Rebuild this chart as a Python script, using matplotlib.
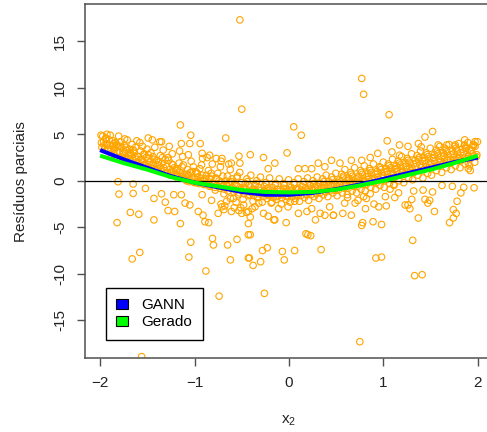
import matplotlib.pyplot as plt
from matplotlib.patches import Rectangle

plt.rcParams['font.family'] = ['Liberation Sans', 'DejaVu Sans']

# fitted partial-effect curves for x2
curve_x = [-2.0, -1.75, -1.5, -1.25, -1.0, -0.75, -0.5, -0.25, 0.0,
           0.25, 0.5, 0.75, 1.0, 1.25, 1.5, 1.75, 2.0]
gann_y = [3.3, 2.3, 1.4, 0.5, -0.2, -0.7, -1.2, -1.5, -1.5,
          -1.3, -0.9, -0.4, 0.2, 0.8, 1.4, 2.0, 2.5]
gerado_y = [2.7, 1.9, 1.2, 0.4, -0.2, -0.6, -1.0, -1.2, -1.25,
            -1.2, -0.95, -0.5, 0.0, 0.6, 1.2, 1.9, 2.7]

# partial residuals, main band
band_x = [
    -1.99, -1.981, -1.972, -1.963, -1.951, -1.944, -1.932, -1.927, -1.914, -1.903, -1.986, -1.957, -1.938, -1.918,
    -1.893, -1.884, -1.871, -1.866, -1.852, -1.843, -1.836, -1.821, -1.812, -1.804, -1.879, -1.858, -1.847, -1.826,
    -1.797, -1.781, -1.774, -1.768, -1.752, -1.744, -1.736, -1.722, -1.713, -1.702, -1.788, -1.759, -1.741, -1.727,
    -1.694, -1.686, -1.675, -1.661, -1.653, -1.642, -1.631, -1.624, -1.611, -1.603, -1.681, -1.668, -1.647, -1.617,
    -1.592, -1.584, -1.571, -1.566, -1.551, -1.548, -1.533, -1.526, -1.512, -1.503, -1.579, -1.559, -1.541, -1.519,
    -1.497, -1.483, -1.476, -1.462, -1.455, -1.441, -1.434, -1.421, -1.416, -1.402, -1.488, -1.468, -1.447, -1.427,
    -1.395, -1.384, -1.372, -1.363, -1.351, -1.346, -1.332, -1.327, -1.311, -1.304, -1.389, -1.368, -1.339, -1.318,
    -1.293, -1.287, -1.274, -1.262, -1.255, -1.241, -1.236, -1.222, -1.214, -1.201, -1.281, -1.268, -1.246, -1.228,
    -1.196, -1.182, -1.177, -1.164, -1.152, -1.143, -1.131, -1.126, -1.113, -1.104, -1.188, -1.159, -1.138, -1.118,
    -1.094, -1.087, -1.073, -1.062, -1.055, -1.043, -1.036, -1.021, -1.012, -1.003, -1.081, -1.066, -1.048, -1.027,
    -0.992, -0.984, -0.971, -0.966, -0.951, -0.944, -0.933, -0.921, -0.915, -0.902, -0.988, -0.959, -0.938, -0.926,
    -0.896, -0.883, -0.874, -0.862, -0.853, -0.846, -0.831, -0.824, -0.812, -0.804, -0.889, -0.867, -0.841, -0.817,
    -0.793, -0.787, -0.772, -0.763, -0.754, -0.741, -0.733, -0.726, -0.713, -0.701, -0.781, -0.768, -0.747, -0.719,
    -0.697, -0.684, -0.676, -0.663, -0.652, -0.645, -0.631, -0.622, -0.616, -0.603, -0.689, -0.657, -0.638, -0.611,
    -0.595, -0.583, -0.574, -0.566, -0.551, -0.543, -0.536, -0.521, -0.514, -0.502, -0.588, -0.561, -0.547, -0.527,
    -0.498, -0.482, -0.477, -0.463, -0.454, -0.446, -0.432, -0.423, -0.413, -0.404, -0.486, -0.468, -0.441, -0.418,
    -0.396, -0.386, -0.374, -0.361, -0.355, -0.342, -0.337, -0.321, -0.316, -0.302, -0.381, -0.366, -0.348, -0.327,
    -0.294, -0.288, -0.271, -0.264, -0.253, -0.246, -0.232, -0.224, -0.211, -0.205, -0.283, -0.259, -0.238, -0.217,
    -0.197, -0.183, -0.176, -0.168, -0.152, -0.141, -0.136, -0.122, -0.114, -0.103, -0.188, -0.161, -0.147, -0.127,
    -0.092, -0.087, -0.074, -0.061, -0.056, -0.043, -0.031, -0.026, -0.014, -0.004, -0.081, -0.067, -0.048, -0.019,
    0.006, 0.017, 0.024, 0.038, 0.046, 0.053, 0.067, 0.074, 0.086, 0.097, 0.012, 0.031, 0.059, 0.081,
    0.104, 0.116, 0.123, 0.137, 0.142, 0.158, 0.164, 0.176, 0.183, 0.196, 0.111, 0.131, 0.152, 0.188,
    0.203, 0.214, 0.226, 0.232, 0.247, 0.253, 0.268, 0.271, 0.284, 0.298, 0.208, 0.238, 0.261, 0.291,
    0.306, 0.312, 0.327, 0.334, 0.348, 0.356, 0.363, 0.377, 0.382, 0.394, 0.317, 0.341, 0.369, 0.388,
    0.402, 0.418, 0.424, 0.431, 0.446, 0.452, 0.467, 0.473, 0.488, 0.496, 0.411, 0.437, 0.459, 0.481,
    0.503, 0.517, 0.522, 0.536, 0.541, 0.558, 0.563, 0.571, 0.584, 0.592, 0.509, 0.548, 0.577, 0.596,
    0.604, 0.613, 0.628, 0.631, 0.645, 0.652, 0.667, 0.673, 0.686, 0.695, 0.618, 0.639, 0.661, 0.682,
    0.707, 0.711, 0.724, 0.738, 0.743, 0.756, 0.762, 0.778, 0.785, 0.797, 0.716, 0.731, 0.768, 0.791,
    0.802, 0.816, 0.821, 0.834, 0.847, 0.853, 0.866, 0.872, 0.887, 0.894, 0.808, 0.841, 0.861, 0.881,
    0.905, 0.912, 0.926, 0.933, 0.941, 0.957, 0.962, 0.974, 0.983, 0.998, 0.918, 0.937, 0.968, 0.988,
    1.004, 1.013, 1.027, 1.031, 1.046, 1.052, 1.064, 1.078, 1.083, 1.096, 1.009, 1.038, 1.058, 1.089,
    1.103, 1.118, 1.122, 1.136, 1.144, 1.157, 1.163, 1.177, 1.186, 1.193, 1.111, 1.131, 1.168, 1.198,
    1.206, 1.211, 1.224, 1.237, 1.248, 1.252, 1.266, 1.273, 1.284, 1.297, 1.215, 1.242, 1.261, 1.288,
    1.302, 1.317, 1.323, 1.336, 1.341, 1.356, 1.364, 1.371, 1.387, 1.394, 1.309, 1.346, 1.378, 1.398,
    1.407, 1.414, 1.426, 1.432, 1.447, 1.453, 1.468, 1.474, 1.482, 1.496, 1.418, 1.438, 1.461, 1.489,
    1.503, 1.516, 1.521, 1.538, 1.544, 1.557, 1.562, 1.576, 1.583, 1.597, 1.509, 1.531, 1.568, 1.591,
    1.604, 1.612, 1.627, 1.633, 1.645, 1.651, 1.668, 1.672, 1.686, 1.694, 1.617, 1.639, 1.661, 1.681,
    1.708, 1.713, 1.726, 1.731, 1.747, 1.754, 1.762, 1.778, 1.783, 1.796, 1.717, 1.739, 1.769, 1.791,
    1.802, 1.817, 1.823, 1.836, 1.842, 1.858, 1.864, 1.877, 1.881, 1.893, 1.811, 1.848, 1.869, 1.898,
    1.904, 1.916, 1.921, 1.938, 1.943, 1.952, 1.967, 1.971, 1.984, 1.996, 1.911, 1.932, 1.958, 1.989,
]
band_y = [
    4.9, 3.6, 4.8, 4.2, 3.4, 4.5, 3.9, 5.0, 3.2, 4.4, 4.1, 3.8, 4.6, 3.5,
    4.9, 3.3, 3.8, 4.3, 2.9, 3.6, 4.1, 3.1, 3.7, 4.8, 2.8, 4.0, 3.4, 3.9,
    3.1, 4.2, 2.6, 3.5, 2.9, 3.8, 2.4, 3.3, 4.4, 2.7, 3.7, 3.0, 2.5, 3.6,
    2.4, 3.4, 2.9, 3.9, 2.2, 3.1, 2.6, 3.6, 4.3, 2.0, 3.0, 2.7, 3.3, 2.3,
    2.6, 1.9, 3.2, 2.3, 3.7, 2.0, 2.9, 1.7, 2.5, 3.4, 4.1, 2.2, 2.8, 1.6,
    1.5, 2.4, 2.0, 3.0, 1.3, 2.6, 1.8, 3.6, 1.2, 2.2, 2.8, 1.6, 4.4, 2.3,
    1.2, 2.0, 1.6, 2.7, 1.0, 1.9, 3.3, 1.4, 2.3, 0.9, 1.7, 4.2, 2.5, 1.1,
    1.5, 0.8, 2.2, 1.2, 0.6, 1.8, 2.9, 1.0, 1.4, 0.5, 2.5, 3.7, 0.9, 1.7,
    0.6, 1.3, 0.3, 1.9, 0.9, 0.4, 1.5, 2.6, 0.7, 0.2, 1.1, 3.2, 0.5, 1.7,
    0.4, 0.0, 1.2, 0.6, -0.1, 0.9, 2.1, 0.3, 1.5, -0.2, 0.7, 2.8, 0.1, 1.0,
    0.2, -0.2, 0.8, 0.4, -0.3, 1.3, 0.0, 0.6, 2.4, -0.4, 1.0, -0.1, 0.3, 1.7,
    0.0, -0.4, 0.6, -0.2, 1.1, 0.3, -0.5, 0.8, 1.8, -0.3, 0.2, 2.5, -0.6, 0.5,
    -0.3, -0.7, 0.3, -0.5, 0.8, 0.0, -0.8, 1.5, -0.2, 0.5, -1.0, 0.2, -0.6, 2.1,
    -0.6, -0.9, 0.0, -0.4, 0.5, -1.1, -0.2, 1.2, -0.8, 0.2, -1.4, -0.5, 1.8, -0.1,
    -0.8, -1.2, -0.3, -1.0, 0.3, -0.6, -1.5, 0.9, -0.9, -0.2, -1.9, -0.5, 0.5, -1.3,
    -1.1, -0.7, -1.4, -0.3, -0.9, 0.2, -1.6, -0.5, -1.2, 0.6, -2.0, -0.8, -0.1, -1.5,
    -1.3, -0.9, -1.6, -0.5, -1.1, 0.0, -1.8, -0.7, -1.4, 0.4, -2.2, -1.0, -0.3, -1.7,
    -1.0, -1.4, -1.7, -0.6, -1.2, -0.2, -1.9, -0.8, -1.5, 0.3, -2.3, -1.1, -0.4, -1.6,
    -1.5, -1.1, -0.7, -1.8, -1.3, -0.3, -2.0, -0.9, -1.6, 0.2, -2.4, -1.2, -0.5, -1.7,
    -1.1, -1.5, -1.8, -0.8, -0.3, -1.3, -2.0, -0.9, -1.6, 0.1, -2.5, -1.2, -0.5, -1.7,
    -1.4, -1.0, -0.7, -1.7, -1.2, -0.2, -1.9, -0.9, -1.5, 0.2, -2.3, -1.1, -0.4, -1.6,
    -0.9, -1.3, -1.6, -0.6, -1.1, -0.1, -1.8, -0.8, -1.4, 0.3, -2.2, -1.0, -0.4, -1.5,
    -1.2, -0.8, -0.5, -1.5, -1.0, 0.0, -1.7, -0.7, -1.3, 0.4, -2.1, -0.9, -0.3, -1.4,
    -0.6, -1.0, -1.3, -0.3, -0.8, 0.2, -1.5, -0.5, -1.1, 0.6, -1.9, -0.7, -0.1, -1.2,
    -0.8, -0.4, -0.1, -1.1, -0.6, 0.4, -1.3, -0.3, -0.9, 0.8, -1.7, -0.5, 0.1, -1.0,
    -0.6, -0.2, -1.0, 0.1, -0.4, 0.7, -1.3, 0.3, -0.8, 1.2, -1.6, -0.1, 0.5, -0.5,
    -0.4, 0.0, -0.8, 0.3, -0.2, 0.9, -1.1, 0.5, -0.6, 1.4, -1.5, 0.1, 0.7, -0.3,
    -0.2, 0.2, -0.6, 0.5, 0.0, 1.1, -0.9, 0.7, -0.4, 1.6, -1.3, 0.3, 0.9, -0.1,
    0.0, 0.4, -0.4, 0.8, 0.2, 1.3, -0.7, 0.9, -0.2, 1.8, -1.1, 0.5, 1.1, 0.1,
    0.2, 0.7, -0.2, 1.0, 0.4, 1.5, -0.5, 1.2, 0.0, 2.0, -0.9, 0.8, 1.4, 0.3,
    0.5, 0.9, 0.1, 1.3, 0.7, 1.8, -0.3, 1.4, 0.3, 2.3, -0.7, 1.0, 1.6, 0.6,
    0.8, 1.2, 0.4, 1.6, 1.0, 2.1, 0.0, 1.7, 0.6, 2.6, -0.5, 1.3, 1.9, 0.9,
    1.0, 1.5, 0.7, 1.9, 1.2, 2.4, 0.3, 2.0, 0.9, 2.9, -0.2, 1.6, 2.2, 1.1,
    1.3, 1.8, 0.9, 2.2, 1.5, 2.7, 0.6, 2.3, 1.1, 3.2, 0.1, 1.9, 2.5, 1.4,
    1.6, 2.1, 1.2, 2.5, 1.8, 3.0, 0.8, 2.6, 1.4, 3.5, 0.3, 2.2, 2.8, 1.7,
    1.9, 2.4, 1.5, 2.8, 2.1, 3.3, 1.1, 2.9, 1.7, 3.7, 0.6, 2.5, 3.1, 2.0,
    2.1, 2.6, 1.8, 3.0, 2.3, 3.5, 1.4, 3.1, 2.0, 3.9, 0.9, 2.7, 3.3, 2.2,
    2.3, 2.8, 2.0, 3.2, 2.5, 3.7, 1.6, 3.3, 2.2, 4.0, 1.2, 2.9, 3.5, 2.4,
    2.5, 3.0, 2.2, 3.4, 2.7, 3.8, 1.8, 3.5, 2.4, 4.1, 1.4, 3.1, 3.6, 2.6,
    2.7, 3.2, 2.4, 3.6, 2.9, 3.9, 2.0, 3.7, 2.6, 4.2, 1.6, 3.3, 3.8, 2.8,
]

# partial residuals, scattered points
out_x = [
    -1.81, -1.80, -1.65, -1.65, -1.52, -1.43, -1.82, -1.68, -1.59, -1.43,
    -1.66, -1.58, -1.15, -1.06, -1.04, -1.24, -0.88, -0.74, -0.62, -0.65,
    -0.55, -0.81, -0.80, -0.43, -0.43, -1.56, -0.89, -0.85, -0.91, -0.96,
    -1.10, -1.05, -1.28, -1.21, -1.31, -1.35, -1.22, -1.14, -0.92, -0.82,
    -0.71, -0.61, -0.75, -0.50, -0.43, -0.41, -0.28, -0.23, -0.42, -0.38,
    -0.30, -0.26, -0.07, -0.05, 0.06, 0.34, 0.18, 0.20, 0.23, 0.75,
    0.92, 0.98, 0.77, 0.78, 0.89, 0.98, 1.31, 1.33, 1.41, 1.37,
    1.54, 1.70, 1.74, 1.77, 1.74, 1.78, 1.82, 1.85, 1.73, 1.96,
    1.52, 1.49, 1.47, 1.44, 1.30, 1.26, 1.23, 1.28, 1.12, 1.03,
    1.02, 0.90, 0.95, 1.07, 1.16, 1.32, 1.42, 0.81, 0.82, 0.86,
    0.79, 0.66, 0.57, 0.47, 0.38, 0.59, 0.70, 0.73, 0.28, -0.03,
    -0.15, -0.11, -0.01, 0.06, 0.10, 0.19, 0.24, 0.33, 0.43, 0.47,
    -0.43, -0.41, -0.39, -0.27, -0.22, -0.32, -0.36, -0.18, -0.16, -0.72,
    -0.66, -0.58, -0.48, -0.69, -0.53, -0.62, -0.45, -0.56, -0.68, -0.51,
    -0.52, 1.06, -1.15, 0.05, 0.13, -0.67, -1.04, 1.52, 1.04, -0.94,
    -1.14, -1.05, -0.41, -0.27, -0.02, -0.53, -0.71, -0.61, -0.52, -0.92,
    -0.84, -0.77, 1.44, 1.37, 1.40, 1.17, 1.26, 0.94, 1.09, 1.17,
    0.66, 0.77, 0.86, 0.54, 0.45, 0.31, 0.38, -0.15, -0.22, 0.10,
    0.17, 0.24, 1.86, 1.97, 1.86, 1.76, 1.67, 1.58, 1.90, 1.90,
    1.92, -1.35, -1.74, -1.49, 0.77, 0.79, -0.50, 0.62, 1.62, 1.11,
]
out_y = [
    -0.1, -1.43, -0.35, -1.36, -0.82, -1.9, -4.5, -3.4, -3.6, -4.2,
    -8.4, -7.7, -4.6, -8.2, -6.6, -12.3, -9.7, -12.4, -8.5, -6.9,
    -6.3, -6.2, -6.9, -8.3, -5.8, -18.9, -4.4, -4.5, -3.7, -3.3,
    -2.4, -2.6, -3.2, -3.3, -2.3, -1.4, -1.5, -1.5, -1.5, -2.1,
    -2.8, -3.3, -3.5, -3.5, -4.6, -5.8, -7.5, -7.2, -8.3, -9.1,
    -8.7, -12.1, -7.6, -8.5, -7.5, -7.4, -5.7, -5.8, -5.9, -17.3,
    -8.3, -8.2, -4.8, -4.5, -4.4, -4.7, -6.4, -10.2, -10.1, -4.0,
    -3.3, -4.5, -4.0, -3.5, -3.1, -2.2, -1.3, -0.7, -0.6, -0.75,
    -1.2, -2.1, -2.4, -2.0, -2.0, -2.6, -2.6, -3.0, -1.8, -2.7,
    -1.7, -2.5, -2.8, -0.9, -1.3, -1.1, -1.0, -3.0, -1.9, -1.4,
    -1.7, -3.7, -3.5, -3.7, -3.7, -2.4, -2.4, -2.1, -4.2, -4.5,
    -4.2, -3.0, -2.8, -2.2, -3.5, -3.3, -3.0, -3.5, -2.8, -3.7,
    -3.3, -3.9, -3.0, -3.5, -3.8, -2.4, -2.8, -2.3, -4.2, -2.5,
    -2.2, -2.9, -2.6, -3.1, -3.2, -1.9, -3.4, -2.3, -2.7, -2.9,
    17.3, 7.1, 6.0, 5.8, 4.9, 4.6, 4.9, 5.3, 4.3, 4.0,
    4.0, 4.0, 2.8, 2.5, 3.0, 2.65, 2.4, 1.9, 1.9, 2.95,
    2.75, 2.4, 4.7, 4.0, 3.65, 3.85, 3.7, 2.95, 3.1, 2.75,
    2.2, 2.2, 2.5, 1.9, 2.2, 1.9, 1.5, 1.9, 1.3, 1.3,
    1.3, 1.3, 4.4, 4.2, 3.85, 3.85, 3.85, 3.85, 1.9, 1.3,
    1.1, 4.2, 4.5, 4.6, 11.0, 9.3, 7.7, -1.8, -0.5, -0.4,
]

labels = ['GANN', 'Gerado']
colors = ['#0000FF', '#00FF00']

fig = plt.figure(figsize=(4.87, 4.32), dpi=100)
ax = fig.add_axes([0.1745, 0.1713, 0.8378, 0.8183])

ax.scatter(band_x, band_y, s=22, facecolors='none', edgecolors='#FFA500', linewidths=0.8, zorder=2)
ax.scatter(out_x, out_y, s=22, facecolors='none', edgecolors='#FFA500', linewidths=0.8, zorder=2)
ax.axhline(0, color='black', lw=0.9, zorder=3)
ax.plot(curve_x, gann_y, color=colors[0], lw=2.9, zorder=4, solid_capstyle='butt')
ax.plot(curve_x, gerado_y, color=colors[1], lw=2.9, zorder=5, solid_capstyle='butt')

ax.set_xlim(-2.16, 2.16)
ax.set_ylim(-19.05, 18.95)
ax.set_xticks([-2, -1, 0, 1, 2])
ax.set_yticks([-15, -10, -5, 0, 5, 10, 15])
ax.set_yticklabels(['-15', '-10', '-5', '0', '5', '10', '15'], rotation=90, va='center')

for sp in ax.spines.values():
    sp.set_color('#505050')
    sp.set_linewidth(1.1)
ax.tick_params(direction='out', length=6, width=1.0, color='#505050',
               labelsize=11, pad=7, labelcolor='#222222')

ax.set_xlabel('$\\mathregular{x_2}$', fontsize=11, labelpad=17, color='#222222')
ax.set_ylabel('Resíduos parciais', fontsize=11, labelpad=18, color='#222222')

handles = [Rectangle((0, 0), 1, 1, facecolor=c, edgecolor='black', lw=0.8) for c in colors]
leg = ax.legend(handles, labels, loc='lower left', bbox_to_anchor=(0.051, 0.051),
                borderaxespad=0, fancybox=False, framealpha=1, edgecolor='black',
                fontsize=11, handlelength=0.75, handleheight=0.65, handletextpad=0.9,
                borderpad=0.7, labelspacing=0.2)
leg.get_frame().set_linewidth(1.0)

fig.savefig('out.png', dpi=100)
